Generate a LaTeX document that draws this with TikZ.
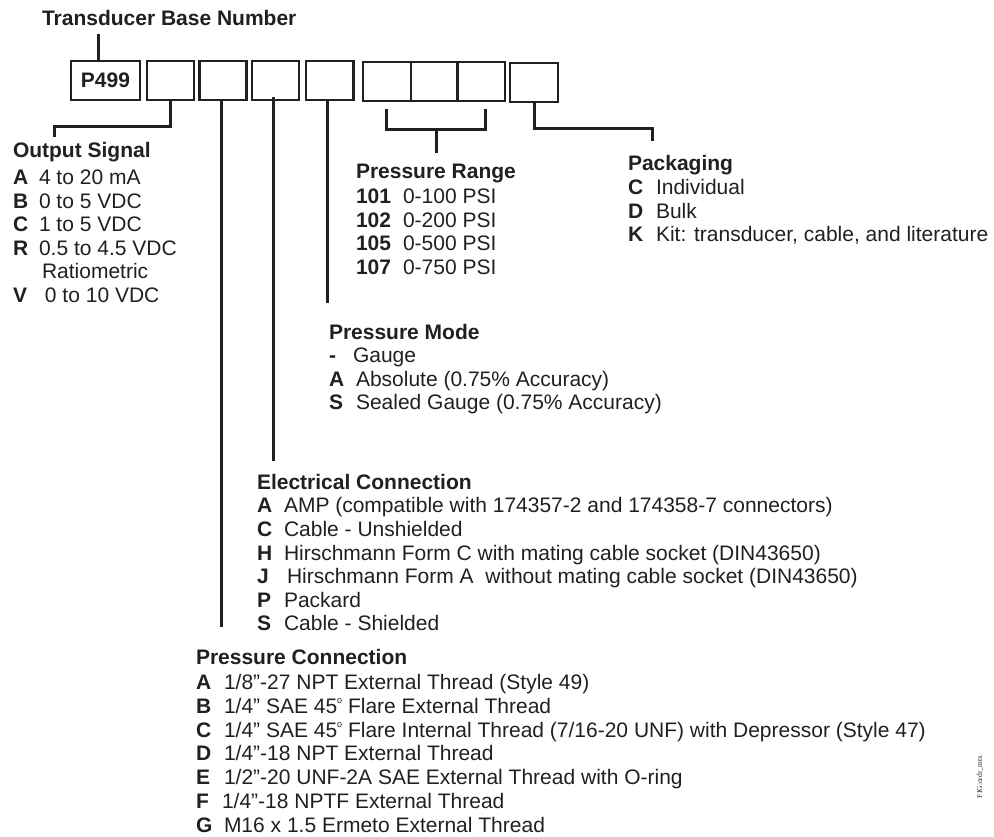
\documentclass[tikz,border=0pt]{standalone}
\usepackage{fontspec}
\setmainfont{Liberation Sans}
\newfontfamily\figfont{Liberation Serif}
\definecolor{ink}{RGB}{35,31,32}
\newcommand\lt[3]{\makebox[#1pt][l]{\textbf{#2}}#3}
\newcommand\degr{\raisebox{0.9ex}{\fontsize{9}{9}\selectfont o}}
\tikzset{
  every node/.style={inner sep=0pt, outer sep=0pt, text=ink, font=\fontsize{21}{24}\selectfont},
  hdr/.style={anchor=base west, font=\fontsize{21}{24}\selectfont\bfseries},
  itm/.style={anchor=base west},
  box/.style={draw=ink, line width=2.4pt, minimum height=39pt, anchor=center},
  conn/.style={draw=ink, line width=3pt},
}
\begin{document}
\begin{tikzpicture}[x=1pt,y=-1pt]
\useasboundingbox (0,0) rectangle (994,837);

% title
\node[hdr] (tbn) at (42,25.5) {Transducer Base Number};

% code boxes
\node[box, minimum width=69pt, font=\fontsize{21}{24}\selectfont\bfseries] (b1) at (105.5,80.5) {P499};
\node[box, minimum width=47.3pt] (b2) at (170.5,80.5) {};
\node[box, minimum width=47.3pt] (b3) at (223,80.5) {};
\node[box, minimum width=47.3pt] (b4) at (275.5,80.5) {};
\node[box, minimum width=47.6pt] (b5) at (329.5,80.5) {};
\node[box, minimum width=48pt] (b6) at (386.7,81.5) {};
\node[box, minimum width=46.6pt] (b7) at (434,81.5) {};
\node[box, minimum width=47.7pt] (b8) at (481,81.5) {};
\node[box, minimum width=48pt] (b9) at (534,82.5) {};

% connector end points
\coordinate (tb) at (98,34);
\coordinate (osend) at (54,137);
\coordinate (pcend) at (221,627);
\coordinate (ecend) at (273,461);
\coordinate (pmend) at (327,303);
\coordinate (prl) at (386,109);
\coordinate (prr) at (485,109);
\coordinate (prm) at (436,130);
\coordinate (prend) at (436,153);
\coordinate (pkend) at (652,141);

% connectors
\draw[conn] (tb) -- (tb |- b1.north);
\draw[conn] (b2.south) -- ++(0,27) -| (osend);
\draw[conn] (pcend |- b3.south) -- (pcend);
\draw[conn] ([yshift=3pt]ecend |- b4.south) -- (ecend);
\draw[conn] (pmend |- b5.south) -- (pmend);
\draw[conn] (prl) |- (prm) -| (prr);
\draw[conn] (prm) -- (prend);
\draw[conn] (b9.south) -- ++(0,27) -| (pkend);

% Output Signal
\node[hdr] (osh) at (13,158) {Output Signal};
\node[itm] (os1) at (13,185) {\lt{26}{A}{4 to 20 mA}};
\node[itm] (os2) at (13,208.5) {\lt{26}{B}{0 to 5 VDC}};
\node[itm] (os3) at (13,232) {\lt{26}{C}{1 to 5 VDC}};
\node[itm] (os4) at (13,255.5) {\lt{26}{R}{0.5 to 4.5 VDC}};
\node[itm] (os5) at (42,279) {Ratiometric};
\node[itm] (os6) at (13,303) {\lt{32}{V}{0 to 10 VDC}};

% Pressure Range
\node[hdr] (prh) at (356,179) {Pressure Range};
\node[itm] (pr1) at (356,204) {\lt{47}{101}{0-100 PSI}};
\node[itm] (pr2) at (356,227.5) {\lt{47}{102}{0-200 PSI}};
\node[itm] (pr3) at (356,251) {\lt{47}{105}{0-500 PSI}};
\node[itm] (pr4) at (356,274.5) {\lt{47}{107}{0-750 PSI}};

% Packaging
\node[hdr] (pkh) at (628,171) {Packaging};
\node[itm] (pk1) at (628,195) {\lt{28}{C}{Individual}};
\node[itm] (pk2) at (628,218.5) {\lt{28}{D}{Bulk}};
\node[itm] (pk3) at (628,242) {\lt{28}{K}{Kit: transducer, cable, and literature}};

% Pressure Mode
\node[hdr] (pmh) at (329,339) {Pressure Mode};
\node[itm] (pm1) at (329,362.5) {\lt{24}{-}{Gauge}};
\node[itm] (pm2) at (329,386) {\lt{27}{A}{Absolute (0.75\% Accuracy)}};
\node[itm] (pm3) at (329,409.5) {\lt{27}{S}{Sealed Gauge (0.75\% Accuracy)}};

% Electrical Connection
\node[hdr] (ech) at (257,489) {Electrical Connection};
\node[itm] (ec1) at (257,512.5) {\lt{27}{A}{AMP (compatible with 174357-2 and 174358-7 connectors)}};
\node[itm] (ec2) at (257,536) {\lt{27}{C}{Cable - Unshielded}};
\node[itm] (ec3) at (257,560) {\lt{27}{H}{Hirschmann Form C with mating cable socket (DIN43650)}};
\node[itm] (ec4) at (257,583.5) {\lt{30}{J}{Hirschmann Form A\ \ without mating cable socket (DIN43650)}};
\node[itm] (ec5) at (257,607) {\lt{27}{P}{Packard}};
\node[itm] (ec6) at (257,630.5) {\lt{27}{S}{Cable - Shielded}};

% Pressure Connection
\node[hdr] (pch) at (196,664) {Pressure Connection};
\node[itm] (pc1) at (196,689) {\lt{28}{A}{1/8”-27 NPT External Thread (Style 49)}};
\node[itm] (pc2) at (196,713) {\lt{28}{B}{1/4” SAE 45\degr\ Flare External Thread}};
\node[itm] (pc3) at (196,737) {\lt{28}{C}{1/4” SAE 45\degr\ Flare Internal Thread (7/16-20 UNF) with Depressor (Style 47)}};
\node[itm] (pc4) at (196,760.5) {\lt{28}{D}{1/4”-18 NPT External Thread}};
\node[itm] (pc5) at (196,784.5) {\lt{28}{E}{1/2”-20 UNF-2A SAE External Thread with O-ring}};
\node[itm] (pc6) at (196,808.5) {\lt{26}{F}{1/4”-18 NPTF External Thread}};
\node[itm] (pc7) at (196,832.5) {\lt{28}{G}{M16 x 1.5 Ermeto External Thread}};

% figure tag
\node[rotate=90, font=\figfont\fontsize{7.5}{9}\selectfont] (fig) at (980,777) {FIG:ordr\_mtx};
\end{tikzpicture}
\end{document}
